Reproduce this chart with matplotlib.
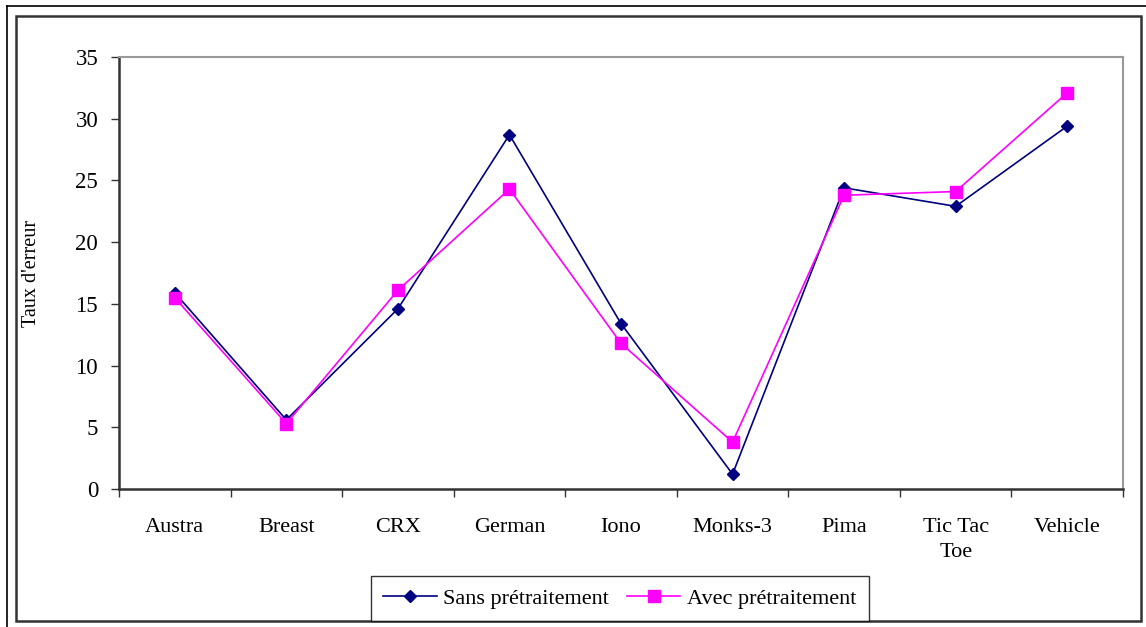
import matplotlib
matplotlib.use("Agg")
import matplotlib.pyplot as plt
from matplotlib.lines import Line2D
from matplotlib.patches import Rectangle
import numpy as np

# Data
categories = ["Austra", "Breast", "CRX", "German", "Iono", "Monks-3", "Pima", "Tic Tac\nToe", "Vehicle"]
sans_pretraitement = [15.9, 5.6, 14.6, 28.7, 13.4, 1.2, 24.4, 22.9, 29.4]
avec_pretraitement = [15.5, 5.3, 16.1, 24.3, 11.8, 3.8, 23.8, 24.1, 32.1]
y_ticks = [0, 5, 10, 15, 20, 25, 30, 35]

W, H = 1146, 627
plt.rcParams['font.family'] = ['Liberation Serif', 'DejaVu Serif']

fig = plt.figure(figsize=(W / 100, H / 100), dpi=100)
fig.patch.set_facecolor("white")

def fx(px):
    return px / W

def fy(py):
    return 1 - py / H

# outer screenshot lines + chart frame
fig.add_artist(Line2D([fx(7), 1], [fy(6), fy(6)], color="black", lw=1.2))
fig.add_artist(Line2D([fx(7), fx(7)], [fy(6), 0], color="black", lw=1.2))
fig.add_artist(Rectangle((fx(16), fy(621)), fx(1141) - fx(16), fy(16) - fy(621),
                         fill=False, edgecolor="#333333", lw=1.8))

ax_left, ax_right = 119, 1123
ax = fig.add_axes([fx(ax_left), fy(489), fx(ax_right) - fx(ax_left), fy(57) - fy(489)])

x = np.arange(len(categories))
ax.plot(x, sans_pretraitement, color="#000080", lw=1.2, marker="D", markersize=6.5,
        label="Sans prétraitement", zorder=3)
ax.plot(x, avec_pretraitement, color="#FF00FF", lw=1.2, marker="s", markersize=8.5,
        label="Avec prétraitement", zorder=4)

ax.set_xlim(-0.5, len(categories) - 0.5)
ax.set_ylim(0, 35)
ax.set_yticks(y_ticks)
ax.set_yticklabels([str(v) for v in y_ticks], fontsize=16.5)
ax.set_xticks(x)
ax.set_xticklabels(categories, fontsize=16, linespacing=1.45, va="top")
ax.set_xticks(np.arange(-0.5, len(categories)), minor=True)
ax.tick_params(axis="x", which="major", length=0, pad=21)
ax.tick_params(axis="x", which="minor", length=6, width=1, color="#333333", direction="out")
ax.tick_params(axis="y", length=6, width=1, color="#333333", direction="out", pad=9)

for side in ["left", "bottom"]:
    ax.spines[side].set_color("#333333")
    ax.spines[side].set_linewidth(1.8)
for side in ["top", "right"]:
    ax.spines[side].set_color("#999999")
    ax.spines[side].set_linewidth(1.5)

# y label: right edge of the rotated text sits at about x=41 px
ax.set_ylabel("Taux d'erreur", fontsize=14.5)
ax.yaxis.set_label_coords(-(ax_left - 41) / (ax_right - ax_left), 0.5)

leg = fig.legend(loc="lower center", bbox_to_anchor=(fx(620), fy(621)), ncol=2,
                 fontsize=16, frameon=True, fancybox=False, edgecolor="black",
                 handlelength=2.4, handletextpad=0.3, columnspacing=0.8,
                 borderpad=0.55, borderaxespad=0)
leg.get_frame().set_linewidth(1.0)

fig.savefig("out.png", dpi=100, facecolor="white")
